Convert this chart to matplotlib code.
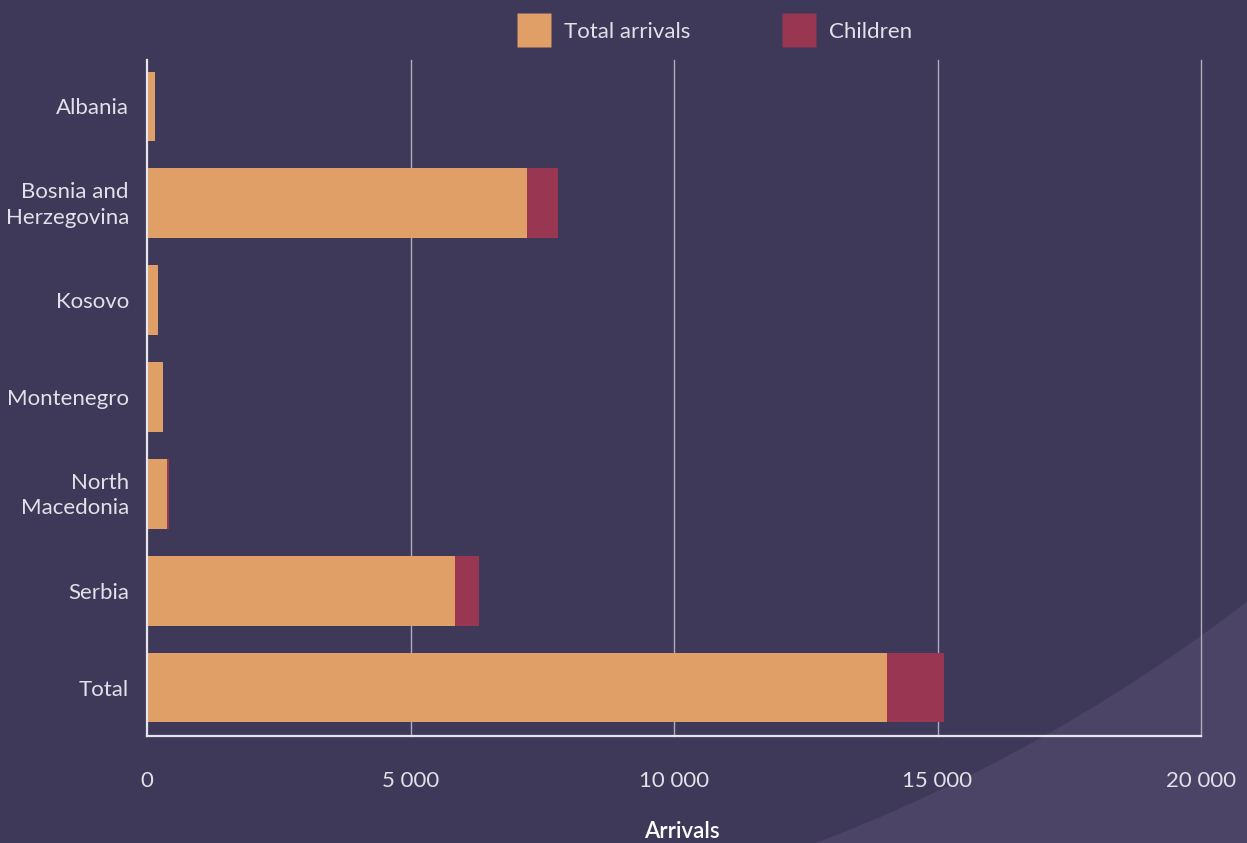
import matplotlib
matplotlib.use("Agg")
import matplotlib.pyplot as plt
from matplotlib.lines import Line2D
from matplotlib.patches import Circle
from matplotlib.ticker import FuncFormatter
from matplotlib.transforms import ScaledTranslation

categories = ["Albania", "Bosnia and\nHerzegovina", "Kosovo", "Montenegro",
              "North\nMacedonia", "Serbia", "Total"]
total_arrivals = [150, 7210, 200, 300, 380, 5845, 14040]
children = [0, 590, 0, 0, 40, 455, 1085]
x_ticks = [0, 5000, 10000, 15000, 20000]

BG = "#3e3859"
BG_LIGHT = "#4b4466"
ORANGE = "#e09f66"
CRIMSON = "#993752"
TXT = "#e2e0e8"

W, H = 1247, 843
fig = plt.figure(figsize=(W / 100, H / 100), dpi=100)
fig.patch.set_facecolor(BG_LIGHT)

# background decoration
bg = fig.add_axes([0, 0, 1, 1], zorder=0)
bg.set_xlim(0, W)
bg.set_ylim(H, 0)
bg.axis("off")
bg.add_patch(Circle((213, -739), 1693, facecolor=BG, edgecolor="none"))

ax = fig.add_axes([147 / W, (H - 736) / H, (1201 - 147) / W, (736 - 60) / H], zorder=1)
ax.patch.set_alpha(0)

y = list(range(len(categories)))
ax.barh(y, total_arrivals, height=0.72, color=ORANGE, zorder=3)
ax.barh(y, children, left=total_arrivals, height=0.72, color=CRIMSON, zorder=3)

ax.set_xlim(0, 20000)
ax.set_ylim(6.5, -0.48)
ax.set_xticks(x_ticks)
ax.xaxis.set_major_formatter(FuncFormatter(lambda v, p: f"{int(v):,}".replace(",", " ")))
ax.set_yticks(y)
ax.set_yticklabels(categories, multialignment="right", linespacing=1.35)

for s in ["top", "right"]:
    ax.spines[s].set_visible(False)
for s in ["left", "bottom"]:
    ax.spines[s].set_color("#e6e6ee")
    ax.spines[s].set_linewidth(1.6)
    ax.spines[s].set_zorder(4)

for xv in x_ticks[1:]:
    ax.axvline(xv, color="#b0adbd", linewidth=1.0, zorder=1, clip_on=False)

ax.tick_params(axis="both", length=0, colors=TXT, labelsize=16)
ax.tick_params(axis="x", pad=25)
ax.tick_params(axis="y", pad=13)
for lab in ax.get_xticklabels() + ax.get_yticklabels():
    lab.set_fontfamily("Lato")
    lab.set_fontweight("normal")
    lab.set_color(TXT)
for lab in ax.get_yticklabels():
    if "\n" in lab.get_text():
        lab.set_transform(lab.get_transform() + ScaledTranslation(0, 3 / 100, fig.dpi_scale_trans))

ax.set_xlabel("Arrivals", fontfamily="Lato", fontsize=16, fontweight="semibold",
              color="white")
ax.xaxis.set_label_coords((682 - 147) / (1201 - 147), -(832 - 736) / (736 - 60))
ax.xaxis.label.set_va("center")

handles = [
    Line2D([], [], linestyle="none", marker="s", markersize=24.5,
           markerfacecolor=ORANGE, markeredgecolor="none"),
    Line2D([], [], linestyle="none", marker="s", markersize=24.5,
           markerfacecolor=CRIMSON, markeredgecolor="none"),
]
leg = fig.legend(handles, ["Total arrivals", "Children"], loc="center",
                 bbox_to_anchor=(715 / W, 1 - 31.5 / H), ncol=2, frameon=False,
                 handlelength=1.45, handletextpad=0.62, columnspacing=4.2,
                 prop={"family": "Lato", "weight": "normal", "size": 16})
for t in leg.get_texts():
    t.set_color(TXT)

fig.savefig("out.png", dpi=100, facecolor=fig.get_facecolor())
